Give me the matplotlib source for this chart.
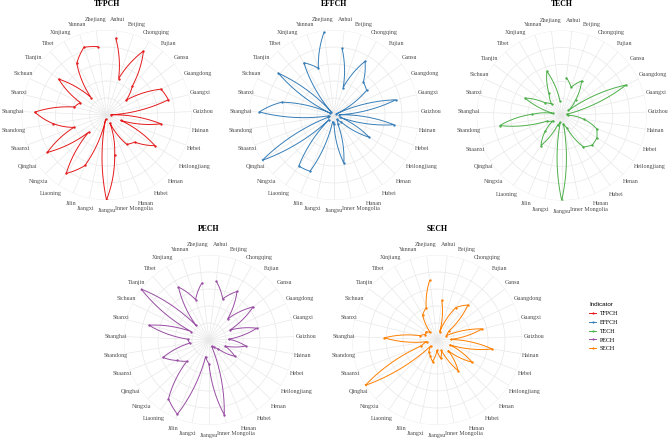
import numpy as np
import matplotlib
matplotlib.use("Agg")
import matplotlib.pyplot as plt
from matplotlib.lines import Line2D
from matplotlib.path import Path
from matplotlib.patches import PathPatch

provinces = ["Anhui", "Beijing", "Chongqing", "Fujian", "Gansu", "Guangdong", "Guangxi",
             "Guizhou", "Hainan", "Hebei", "Heilongjiang", "Henan", "Hubei", "Hunan",
             "Inner Mongolia", "Jiangsu", "Jiangxi", "Jilin", "Liaoning", "Ningxia",
             "Qinghai", "Shaanxi", "Shandong", "Shanghai", "Shanxi", "Sichuan",
             "Tianjin", "Tibet", "Xinjiang", "Yunnan", "Zhejiang"]

tfpch = [0.91, 0.45, 0.87, 0.46, 0.29, 0.71, 0.75, 0.05, 0.65, 0.18, 0.675, 0.46, 0.42,
         0.10, 0.48, 1.00, 0.05, 0.645, 0.835, 0.29, 0.825, 0.41, 0.635, 0.845, 0.39,
         0.34, 0.705, 0.275, 0.70, 0.84, 0.81]
effch = [0.79, 0.34, 0.73, 0.52, 0.48, 0.03, 0.75, 0.06, 0.715, 0.08, 0.49, 0.12, 0.06,
         0.12, 0.58, 0.10, 0.08, 0.72, 0.73, 0.08, 1.00, 0.08, 0.06, 0.88, 0.63,
         0.05, 0.82, 0.05, 0.71, 0.58, 0.98]
tech = [0.45, 0.35, 0.47, 0.25, 0.10, 0.84, 0.06, 0.08, 0.26, 0.44, 0.49, 0.50, 0.45,
        0.16, 0.10, 1.00, 0.08, 0.12, 0.43, 0.27, 0.12, 0.19, 0.74, 0.35, 0.10,
        0.48, 0.25, 0.18, 0.30, 0.55, 0.17]
pech = [0.70, 0.51, 0.66, 0.33, 0.65, 0.27, 0.58, 0.23, 0.44, 0.20, 0.36, 0.15, 0.10,
        0.08, 0.90, 0.28, 0.20, 0.95, 0.84, 0.36, 0.45, 0.58, 0.23, 0.25, 0.73,
        0.23, 1.00, 0.23, 0.72, 0.50, 0.68]
sech = [0.47, 0.10, 0.44, 0.55, 0.17, 0.12, 0.55, 0.16, 0.66, 0.16, 0.49, 0.18, 0.44,
        0.13, 0.22, 0.12, 0.26, 0.20, 0.17, 0.10, 1.00, 0.20, 0.12, 0.62, 0.21,
        0.15, 0.16, 0.12, 0.34, 0.40, 0.71]

indicators = ["TFPCH", "EFFCH", "TECH", "PECH", "SECH"]
series = [tfpch, effch, tech, pech, sech]
colors = ["#E41A1C", "#377EB8", "#4DAF4A", "#984EA3", "#FF7F00"]

W, H = 669, 440
fig = plt.figure(figsize=(W / 100, H / 100), dpi=100)
renderer = fig.canvas.get_renderer()
R = 85.0
centers = [(106.5, 115.0), (334.0, 115.0), (561.7, 115.5), (209.0, 340.0), (437.0, 340.0)]

n = len(provinces)
theta = 2 * np.pi * (np.arange(1, n + 1) - 0.4) / (n + 0.2)

serif = "Liberation Serif"
for name, vals, col, (cx, cy) in zip(indicators, series, colors, centers):
    ax = fig.add_axes([(cx - R) / W, (H - cy - R) / H, 2 * R / W, 2 * R / H], projection="polar")
    ax.set_theta_zero_location("N")
    ax.set_theta_direction(-1)
    ax.set_ylim(0, 1)
    ax.set_xticks(theta)
    ax.set_xticklabels([])
    ax.set_yticks([0.2, 0.4, 0.6, 0.8, 1.0])
    ax.set_yticklabels([])
    ax.tick_params(length=0)
    ax.grid(True, color="#E8E8E8", lw=0.5)
    ax.spines["polar"].set_visible(False)
    ax.set_facecolor("white")
    # line drawn in (theta, r) space so that it renders as spiral arcs, as coord_polar does
    data_path = Path(np.column_stack([theta, vals])).interpolated(40)
    ax.add_patch(PathPatch(data_path, fill=False, edgecolor=col, lw=0.7, zorder=3))
    ax.plot(theta, vals, linestyle="none", color=col, marker="o", markersize=1.7,
            markeredgewidth=0, zorder=4)
    # category labels: justified outward like ggplot's polar theta axis
    for t, lab in zip(theta, provinces):
        txt = fig.text(0, 0, lab, ha="center", va="center", fontsize=4.3,
                       family=serif, color="#4D4D4D")
        w = txt.get_window_extent(renderer).width
        s, c = np.sin(t), np.cos(t)
        spread = np.sign(s) * abs(s) ** 0.4 if c < 0 else s
        gap = 86.5 if s > 0 else 82.0
        dx = gap * s + 0.5 * w * spread
        dy = 95.7 * c
        txt.set_position(((cx + dx) / W, (H - cy + dy) / H))
    ax.text(0.5, 1.155, name, transform=ax.transAxes, ha="center", va="center",
            fontsize=5.6, family=serif, fontweight="bold", color="black")

handles = [Line2D([], [], color=c, lw=0.7, marker="o", markersize=1.6, markeredgewidth=0)
           for c in colors]
leg = fig.legend(handles, indicators, loc="upper left", bbox_to_anchor=(589 / W, 1 - 302 / H),
                 frameon=False, title="Indicator", handlelength=1.2, handletextpad=0.6,
                 labelspacing=0.62, borderaxespad=0, borderpad=0,
                 prop={"family": serif, "size": 4.3},
                 title_fontproperties={"family": "Liberation Sans", "size": 4.5})
leg._legend_box.align = "left"

fig.savefig("out.png", dpi=100, facecolor="white")
